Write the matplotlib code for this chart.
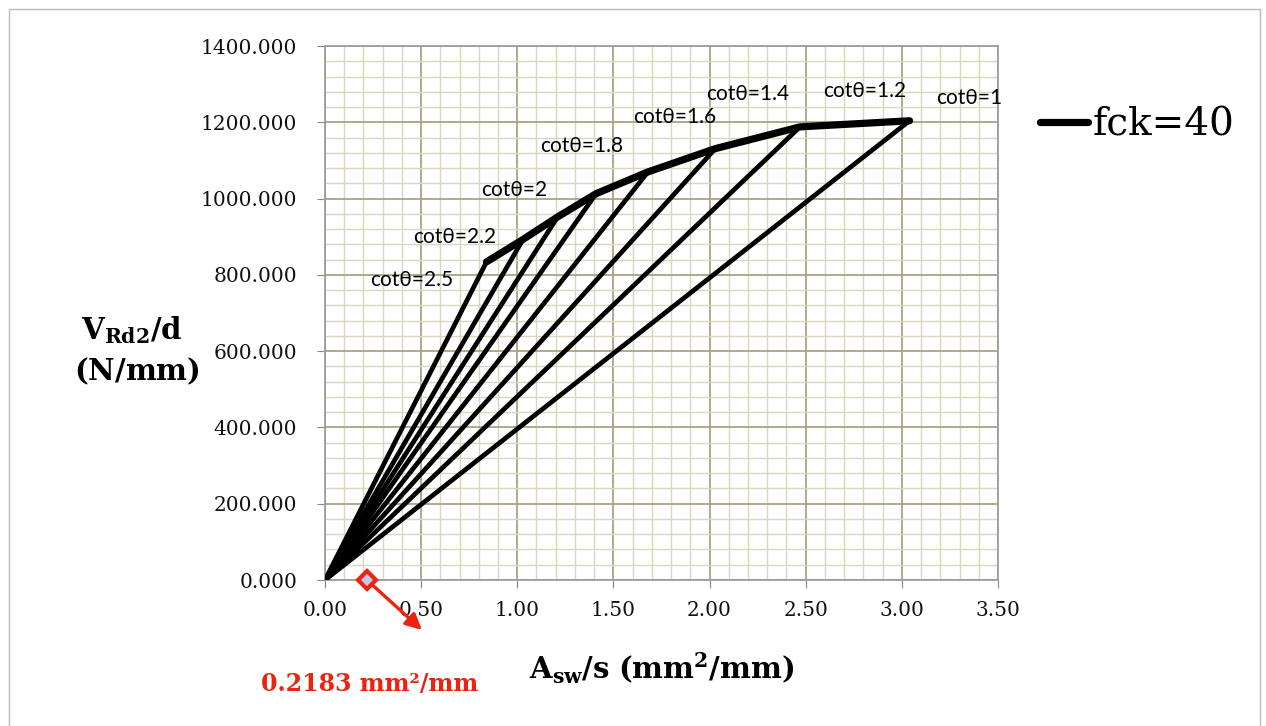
import numpy as np
import matplotlib.pyplot as plt
from matplotlib.patches import Rectangle
from matplotlib.transforms import offset_copy

plt.rcParams['font.family'] = 'DejaVu Serif'
plt.rcParams['mathtext.fontset'] = 'dejavuserif'

# strut angle cases and the corner points of each (fck = 40)
cot_theta = ['2.5', '2.2', '2', '1.8', '1.6', '1.4', '1.2', '1']
asw_s = [0.84, 1.03, 1.21, 1.41, 1.68, 2.03, 2.47, 3.04]
vrd2_d = [834, 893, 952, 1013, 1070, 1131, 1188, 1204]

# minimum reinforcement marker
asw_min = 0.2183

# label offsets in pixels from each corner point
label_offsets = [(-75, -18), (-68, 2), (-43, 27), (-14, 48),
                 (27, 55), (32, 55), (65, 36), (60, 23)]

fig = plt.figure(figsize=(12.66, 7.26), dpi=100)
ax = fig.add_axes([0.2567, 0.2011, 0.5316, 0.7355])

# grid
ax.set_xlim(0, 3.5)
ax.set_ylim(0, 1400)
ax.set_xticks(np.arange(0, 3.51, 0.5))
ax.set_yticks(np.arange(0, 1401, 200))
ax.set_xticks(np.arange(0, 3.51, 0.1), minor=True)
ax.set_yticks(np.arange(0, 1401, 40), minor=True)
ax.grid(which='minor', color='#dcd6bd', lw=1.0)
ax.grid(which='major', color='#aaa483', lw=1.3)
ax.set_axisbelow(True)
ax.xaxis.set_major_formatter(lambda v, p: f'{v:.2f}')
ax.yaxis.set_major_formatter(lambda v, p: f'{v:.3f}')
ax.tick_params(which='major', direction='out', length=6, color='#888888',
               labelsize=14.5, labelcolor='#111111')
ax.tick_params(which='minor', length=0)
ax.tick_params(axis='y', pad=14)
ax.tick_params(axis='x', pad=9)
for s in ax.spines.values():
    s.set_color('#999999')
    s.set_linewidth(1.2)

# lines from the origin to each corner
for x, y in zip(asw_s, vrd2_d):
    ax.plot([0, x], [0, y], color='black', lw=3.4, solid_capstyle='round',
            zorder=3)

# envelope
env, = ax.plot(asw_s, vrd2_d, color='black', lw=5.2, solid_capstyle='round',
               solid_joinstyle='round', zorder=4)

for c, x, y, off in zip(cot_theta, asw_s, vrd2_d, label_offsets):
    ax.annotate('cotθ=' + c, xy=(x, y), xytext=off, textcoords='offset pixels',
                ha='center', va='center', fontsize=15, family='Lato')

ax.legend([env], ['fck=40'], loc='center left', bbox_to_anchor=(1.01, 0.852),
          frameon=False, handlelength=1.25, handletextpad=0.1, fontsize=28)

# minimum reinforcement
red = '#ee2211'
ax.plot([asw_min], [0], marker='D', ms=9, mfc='#c8c8e8', mec=red, mew=3,
        clip_on=False, zorder=6)
head = offset_copy(ax.transData, fig=fig, x=55, y=-50, units='dots')
ax.annotate('', xy=(asw_min, 0), xycoords=head, xytext=(asw_min, 0),
            textcoords='data',
            arrowprops=dict(arrowstyle='-|>', color=red, lw=2.4,
                            mutation_scale=24, shrinkA=6, shrinkB=0))
ax.annotate(f'{asw_min:.4f} mm²/mm', xy=(asw_min, 0), xytext=(3, -104),
            textcoords='offset pixels', ha='center', va='center',
            color=red, fontsize=17, fontweight='bold', annotation_clip=False)

# axis titles
fig.text(0.5225, 0.08, r'$\mathbf{A_{sw}/s\ (mm^2/mm)}$', ha='center',
         va='center', fontsize=21)
fig.text(0.104, 0.545, r'$\mathbf{V_{Rd2}/d}$', ha='center', va='center',
         fontsize=21)
fig.text(0.108, 0.489, r'$\mathbf{(N/mm)}$', ha='center', va='center',
         fontsize=21)

# page frame
fig.patches.append(Rectangle((0.007, -0.01), 0.988, 0.998,
                             transform=fig.transFigure, fill=False,
                             edgecolor='#bbbbbb', lw=1))

fig.savefig('out.png', dpi=100)
